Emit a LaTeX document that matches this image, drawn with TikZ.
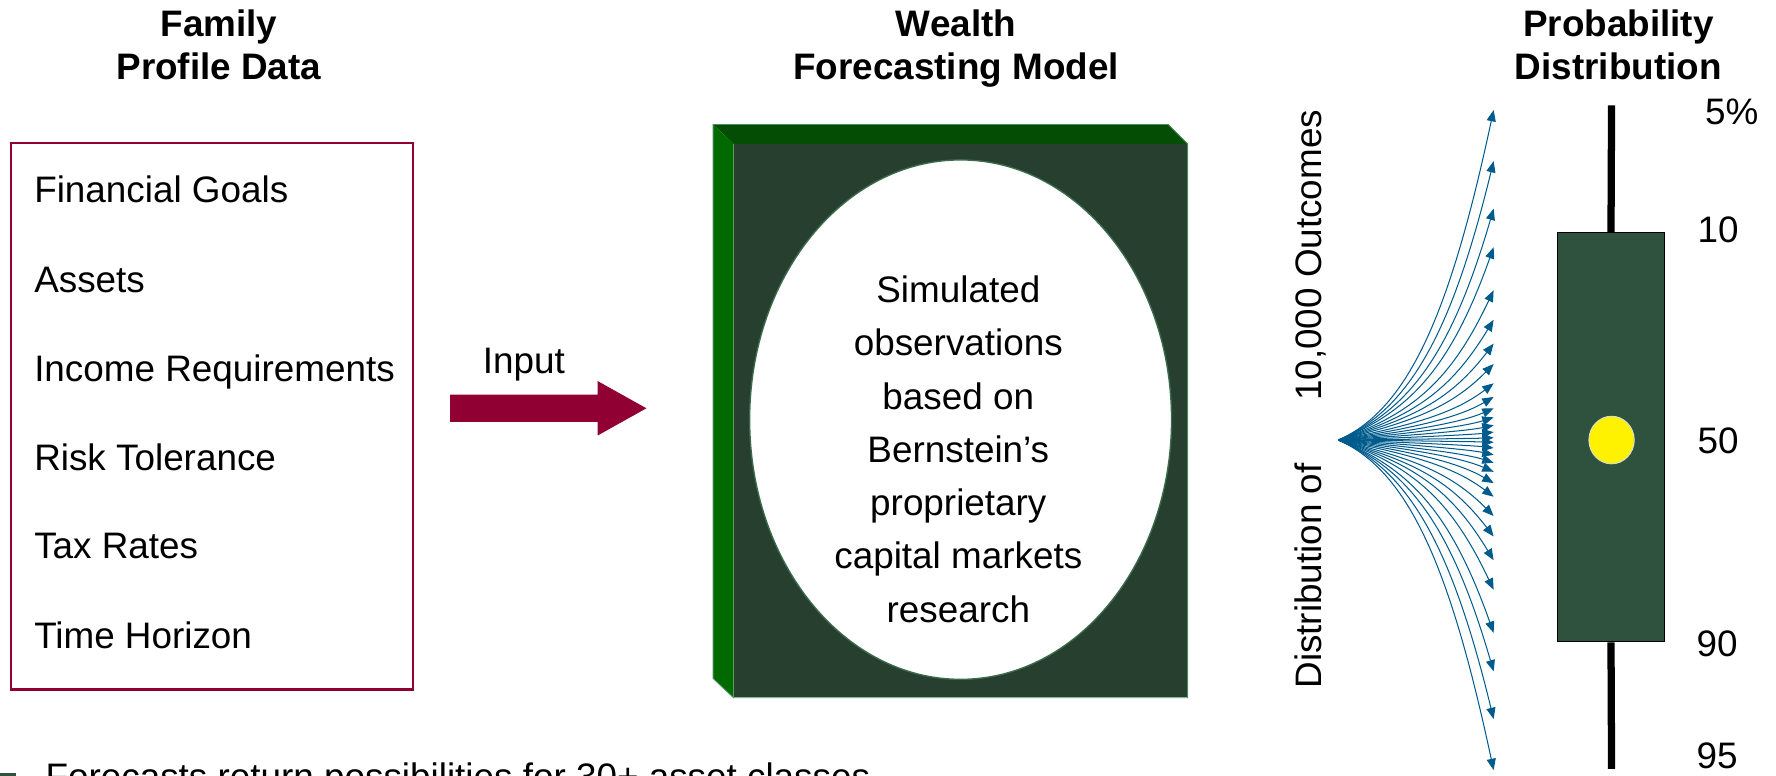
\documentclass[tikz,border=0pt]{standalone}
\usepackage{fontspec}
\setmainfont{Liberation Sans}
\usetikzlibrary{arrows.meta,calc,shapes.geometric}
\definecolor{maroon}{RGB}{145,0,50}
\definecolor{facegreen}{RGB}{38,63,47}
\definecolor{topgreen}{RGB}{4,77,4}
\definecolor{leftgreen}{RGB}{0,106,0}
\definecolor{edgegreen}{RGB}{80,140,95}
\definecolor{ellline}{RGB}{60,107,76}
\definecolor{boxgreen}{RGB}{47,82,62}
\definecolor{fanblue}{RGB}{0,91,141}
\begin{document}
\begin{tikzpicture}[x=1pt,y=1pt,
  txt/.style={font=\fontsize{32.5}{39}\selectfont, inner sep=0pt},
  ttl/.style={font=\fontsize{32.5}{39}\selectfont\bfseries, inner sep=0pt, anchor=base},
  fanarr/.style={draw=fanblue, line width=0.9, -{Triangle[length=10pt,width=8pt]}}]
\useasboundingbox (0,-683.4) rectangle (1566,0);

% titles
\node[ttl] (t1a) at (193,-32) {Family};
\node[ttl] (t1b) at (193,-70) {Profile Data};
\node[ttl] (t2a) at (843,-32) {Wealth};
\node[ttl] (t2b) at (843,-70) {Forecasting Model};
\node[ttl] (t3a) at (1427,-32) {Probability};
\node[ttl] (t3b) at (1427,-70) {Distribution};

% family profile box
\node[draw=maroon, line width=2, minimum width=354, minimum height=482, inner sep=0] (fam) at (187,-367) {};
\foreach \t/\y [count=\i] in {Financial Goals/167, Assets/246, Income Requirements/325, Risk Tolerance/403, Tax Rates/481, Time Horizon/560}
  \node[txt, anchor=base west] (item\i) at (30,{-\y-11.7}) {\t};

% input arrow
\coordinate (inS) at (397,-360);
\coordinate (inT) at (570,-360);
\fill[maroon] ($(inS)+(0,12)$) -- ($(inT)+(-43,12)$) -- ($(inT)+(-43,24)$) -- (inT)
   -- ($(inT)+(-43,-24)$) -- ($(inT)+(-43,-12)$) -- ($(inS)+(0,-12)$) -- cycle;
\node[txt, anchor=base] (inlbl) at (462,{-318-11.7}) {Input};

% wealth forecasting model box
\node[fill=facegreen, minimum width=400, minimum height=488, inner sep=0] (model) at (847,-371) {};
\fill[topgreen] ($(model.north west)+(-18,17)$) -- ($(model.north east)+(-17,17)$) -- (model.north east) -- (model.north west) -- cycle;
\fill[leftgreen] ($(model.north west)+(-18,17)$) -- (model.north west) -- (model.south west) -- ($(model.south west)+(-18,17)$) -- cycle;
\draw[edgegreen, line width=0.8] ($(model.north west)+(-18,17)$) -- ($(model.north east)+(-17,17)$) -- (model.north east) -- (model.south east) -- (model.south west) -- ($(model.south west)+(-18,17)$) -- cycle;
\node[ellipse, draw=ellline, fill=white, line width=1.2, minimum width=372, minimum height=458, inner sep=0] (sim) at (847,-370) {};
\foreach \t/\y [count=\i] in {Simulated/255, observations/302, based on/349, Bernstein’s/396, proprietary/443, capital markets/490, research/537}
  \node[txt, anchor=base] (sim\i) at (845,{-\y-11.7}) {\t};

% fan of outcomes
\coordinate (fan) at (1180,-388);
\foreach \d in {291,246,204,170,132,106,85,67,50,38,28,20,13,7,2} {
  \pgfmathsetmacro\angE{80*(1-exp(-\d/80))}
  \pgfmathsetmacro\angS{0.3*\angE}
  \pgfmathsetmacro\lenB{0.55*\d+15}
  \coordinate (tipu\d) at (1317,{-388+\d});
  \coordinate (tipd\d) at (1317,{-388-\d});
  \draw[fanarr] (fan) .. controls ($(fan)+(\angS:70)$) and ($(tipu\d)+({180+\angE}:\lenB)$) .. (tipu\d);
  \draw[fanarr] (fan) .. controls ($(fan)+(-\angS:70)$) and ($(tipd\d)+({180-\angE}:\lenB)$) .. (tipd\d);
}
\node[txt, rotate=90, anchor=base] (distlbl) at (1165,-352) {Distribution of\hspace{55pt}10,000 Outcomes};

% probability distribution
\coordinate (wtop) at (1421,-93);
\coordinate (wbot) at (1421,-678);
\node[draw=black, fill=boxgreen, line width=1, minimum width=95, minimum height=361, inner sep=0] (iqr) at (1420.5,-385.5) {};
\draw[line width=6.4] (wtop) -- (iqr.north);
\draw[line width=6.4] (iqr.south) -- (wbot);
\node[ellipse, fill=yellow, draw=white!85!black, line width=0.8, minimum width=40, minimum height=42, inner sep=0] (med) at (1421,-388) {};
\node[txt, anchor=base] (p5) at (1527,-110) {5\%};
\node[txt, anchor=base] (p10) at (1515,-214) {10};
\node[txt, anchor=base] (p50) at (1515,-400) {50};
\node[txt, anchor=base] (p90) at (1514,-579) {90};
\node[txt, anchor=base] (p95) at (1514,-678) {95};

% bottom bullet (cut off at the lower edge, as in the original)
\node[fill=boxgreen, minimum size=14, inner sep=0, anchor=north west] (bullet) at (0,-681) {};
\node[txt, anchor=base west] (bullettxt) at (40,-696.3) {Forecasts return possibilities for 30+ asset classes};
\end{tikzpicture}
\end{document}
